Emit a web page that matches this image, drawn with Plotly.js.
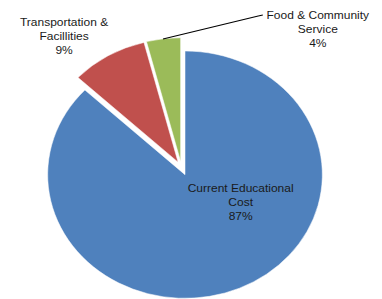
<!DOCTYPE html>
<html>
<head>
<meta charset="utf-8">
<script src="https://cdn.plot.ly/plotly-3.0.1.min.js"></script>
<style>
html, body { margin: 0; padding: 0; background: #fff; overflow: hidden; width: 382px; height: 299px; }
#plot { width: 344px; height: 299px; transform: scaleX(1.1105); transform-origin: 0 0; }
</style>
</head>
<body>
<div id="plot"></div>
<script>
// Data
const categories = ["Current Educational Cost", "Transportation & Facillities", "Food & Community Service"];
const labelLines = ["Current Educational<br>Cost", "Transportation &<br>Facillities", "Food & Community<br>Service"];
const values = [87, 9, 4];
const colors = ["#4F81BD", "#C0504D", "#9BBB59"];
const pulls = [0.065, 0.048, 0.048];

const total = values.reduce((a, b) => a + b, 0);
const pct = values.map(v => Math.round(v / total * 100) + "%");

const trace = {
  type: "pie",
  labels: categories,
  values: values,
  sort: false,
  direction: "clockwise",
  rotation: 0,
  pull: pulls,
  marker: { colors: colors, line: { color: "#ffffff", width: 0.5 } },
  textinfo: "none",
  hoverinfo: "label+percent",
  showlegend: false,
  domain: { x: [0.039, 0.911], y: [0, 0.881] }
};

const font = { family: "Liberation Sans, Arial, sans-serif", size: 10.8, color: "#1a1a1a" };
const annPos = [
  { x: 0.6285, y: 0.3244 },
  { x: 0.1677, y: 0.8796 },
  { x: 0.834, y: 0.903 }
];
const annotations = categories.map((c, i) => ({
  xref: "paper", yref: "paper",
  x: annPos[i].x, y: annPos[i].y,
  xanchor: "center", yanchor: "middle",
  text: labelLines[i] + "<br>" + pct[i],
  showarrow: false,
  align: "center",
  font: font
}));

const layout = {
  width: 344, height: 299,
  margin: { l: 0, r: 0, t: 0, b: 0 },
  paper_bgcolor: "#ffffff",
  plot_bgcolor: "#ffffff",
  showlegend: false,
  annotations: annotations,
  shapes: [{
    type: "path", xref: "paper", yref: "paper",
    path: "M 0.4268 0.8696 L 0.676 0.9465 L 0.688 0.950",
    line: { color: "#000000", width: 1 }
  }]
};

Plotly.newPlot("plot", [trace], layout, { displayModeBar: false, staticPlot: true });
</script>
</body>
</html>
